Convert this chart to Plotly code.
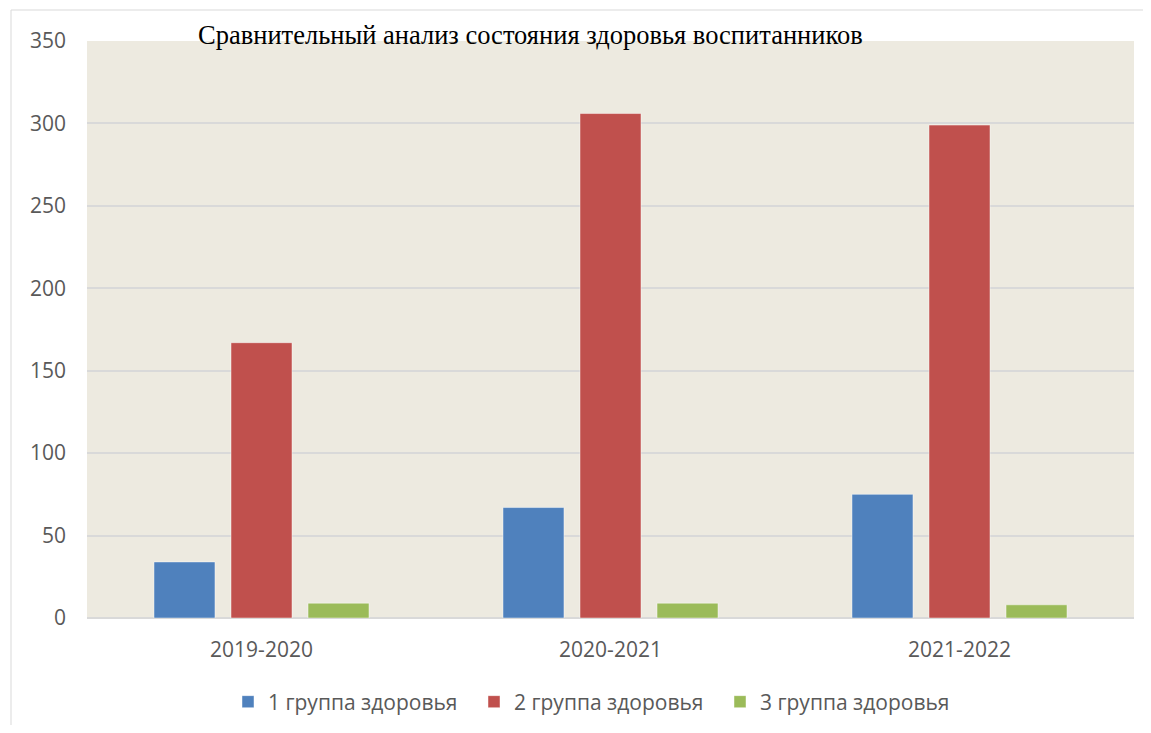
import plotly.graph_objects as go

categories = ["2019-2020", "2020-2021", "2021-2022"]
group1 = [34, 67, 75]
group2 = [167, 306, 299]
group3 = [9, 9, 8]
series_names = ["1 группа здоровья", "2 группа здоровья", "3 группа здоровья"]
colors = ["#4F81BD", "#C0504D", "#9BBB59"]
title_text = "Сравнительный анализ состояния здоровья воспитанников"

# page body adds an 8px offset
OFF = 8
W, H = 1135, 717
PL, PR, PT, PB = 87, 1134, 41, 618  # target plot-area pixel box in the window
L, T = PL - OFF, PT - OFF
R = OFF + W - PR
B = OFF + H - PB
pw, ph = PR - PL, PB - PT

fig = go.Figure()
for name, vals, col in zip(series_names, [group1, group2, group3], colors):
    fig.add_trace(go.Bar(
        x=categories, y=vals, name=name,
        marker=dict(color=col, line=dict(color="rgba(255,255,255,0.45)", width=1)),
    ))

fig.update_layout(
    width=W, height=H,
    margin=dict(l=L, r=R, t=T, b=B, autoexpand=False),
    paper_bgcolor="white",
    plot_bgcolor="#EDEAE0",
    barmode="group",
    bargap=0.338,
    bargroupgap=0.208,
    font=dict(family="Open Sans, sans-serif", size=20, color="#595959"),
    showlegend=True,
    legend=dict(
        orientation="h", x=(597 - PL) / pw, xanchor="center", y=-(702 - PB) / ph, yanchor="middle",
        font=dict(size=21, color="#595959"),
        entrywidth=201, entrywidthmode="pixels", itemwidth=30,
        traceorder="normal",
    ),
    xaxis=dict(
        showgrid=False, showline=False, ticks="", automargin=False,
        tickfont=dict(size=21, color="#595959"),
        ticklabelstandoff=17,
    ),
    yaxis=dict(
        range=[0, 350], dtick=50, tick0=0, automargin=False,
        showgrid=True, gridcolor="#D9D9D9", gridwidth=1.5,
        zeroline=True, zerolinecolor="#D9D9D9", zerolinewidth=1.5,
        showline=False, ticks="", ticklabelstandoff=20,
        tickfont=dict(size=21, color="#595959"),
    ),
    annotations=[dict(
        text=title_text, xref="paper", yref="paper",
        x=(530 - PL) / pw, y=(PB - 35) / ph, xanchor="center", yanchor="middle",
        showarrow=False,
        font=dict(family="Liberation Serif, Times New Roman, serif", size=26.5, color="#000000"),
    )],
    shapes=[dict(
        type="rect", xref="paper", yref="paper",
        x0=(11 - PL) / pw, x1=(1165 - PL) / pw,
        y0=(PB - 745) / ph, y1=(PB - 10) / ph,
        line=dict(color="#D9D9D9", width=1), fillcolor="rgba(0,0,0,0)", layer="below",
    )],
)

fig.write_html("out.html")
